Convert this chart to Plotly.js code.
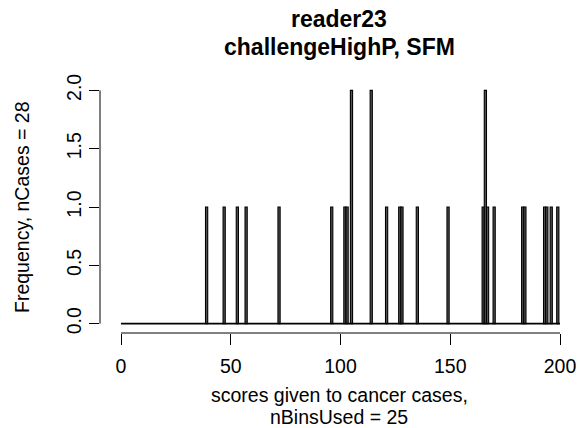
<!DOCTYPE html>
<html>
<head>
<meta charset="utf-8">
<script src="https://cdn.plot.ly/plotly-3.0.1.min.js"></script>
<style>html,body{margin:0;padding:0;background:#fff;}#chart{width:579px;height:428px;}</style>
</head>
<body>
<div id="chart"></div>
<script>
// Data (score bins with non-zero counts)
const scores = [39, 47, 53, 57, 72, 96, 102, 103, 105, 114, 121, 127, 128, 135, 149, 165, 166, 167, 170, 183, 184, 193, 194, 196, 199];
const counts = [1, 1, 1, 1, 1, 1, 1, 1, 2, 2, 1, 1, 1, 1, 1, 1, 2, 1, 1, 1, 1, 1, 1, 1, 1];
const xTickVals = [0, 50, 100, 150, 200];
const yTickVals = [0, 0.5, 1, 1.5, 2];
const yTickText = ["0.0", "0.5", "1.0", "1.5", "2.0"];
const binRange = [0, 200];
const titleLines = ["reader23", "challengeHighP, SFM"];
const xTitleLines = ["scores given to cancer cases,", "nBinsUsed = 25"];
const yTitle = "Frequency, nCases = 28";

const FONT = "Liberation Sans, Arial, Helvetica, sans-serif";
const fs = 19.5;
const tfs = 23;

const trace = {
  type: "bar",
  x: scores,
  y: counts,
  width: 1,
  marker: {color: "#555555", line: {color: "#000000", width: 1.1}},
  hoverinfo: "x+y"
};

const layout = {
  width: 579, height: 428,
  margin: {l: 100, r: 1, t: 81, b: 95, pad: 0},
  paper_bgcolor: "#ffffff", plot_bgcolor: "#ffffff",
  showlegend: false,
  bargap: 0,
  font: {family: FONT, size: fs, color: "#000000"},
  xaxis: {
    range: [-9.57, 208.2], showgrid: false, zeroline: false, showline: false,
    tickmode: "array", tickvals: xTickVals, ticktext: xTickVals.map(String),
    ticks: "outside", ticklen: 11, tickwidth: 1, tickcolor: "#000", ticklabelstandoff: 5,
    tickfont: {family: FONT, size: fs, color: "#000"}, fixedrange: true
  },
  yaxis: {
    range: [-0.08, 2.08], showgrid: false, zeroline: false, showline: false,
    tickmode: "array", tickvals: yTickVals, ticktext: yTickText, tickangle: -90,
    ticks: "outside", ticklen: 10, tickwidth: 1, tickcolor: "#000",
    tickfont: {family: FONT, size: fs, color: "#000"}, fixedrange: true
  },
  shapes: [
    {type: "line", xref: "x", yref: "y", x0: binRange[0], x1: binRange[1], y0: 0, y1: 0,
     line: {color: "#000", width: 1.6}},
    {type: "line", xref: "x", yref: "paper", x0: xTickVals[0], x1: xTickVals[xTickVals.length - 1], y0: 0, y1: 0,
     line: {color: "#000", width: 1}},
    {type: "line", xref: "paper", yref: "y", x0: 0, x1: 0, y0: yTickVals[0], y1: yTickVals[yTickVals.length - 1],
     line: {color: "#000", width: 1}}
  ],
  annotations: [
    {text: "<b>" + titleLines[0] + "</b>", xref: "paper", yref: "paper", x: 0.5, y: 1, yshift: 81 - 32.5,
     showarrow: false, xanchor: "center", yanchor: "bottom", borderpad: 0, font: {family: FONT, size: tfs}},
    {text: "<b>" + titleLines[1] + "</b>", xref: "paper", yref: "paper", x: 0.5, y: 1, yshift: 81 - 32.5,
     showarrow: false, xanchor: "center", yanchor: "top", borderpad: 0, font: {family: FONT, size: tfs}},
    {text: xTitleLines[0], xref: "paper", yref: "paper", x: 0.5, y: 0, yshift: -(395 - 333),
     showarrow: false, xanchor: "center", yanchor: "middle", font: {family: FONT, size: fs}},
    {text: xTitleLines[1], xref: "paper", yref: "paper", x: 0.5, y: 0, yshift: -(417 - 333),
     showarrow: false, xanchor: "center", yanchor: "middle", font: {family: FONT, size: fs}},
    {text: yTitle, xref: "paper", yref: "paper", x: 0, y: 0.5, xshift: 22 - 100, textangle: -90,
     showarrow: false, xanchor: "center", yanchor: "middle", font: {family: FONT, size: fs}}
  ]
};

Plotly.newPlot("chart", [trace], layout, {displayModeBar: false, staticPlot: true});
</script>
</body>
</html>
